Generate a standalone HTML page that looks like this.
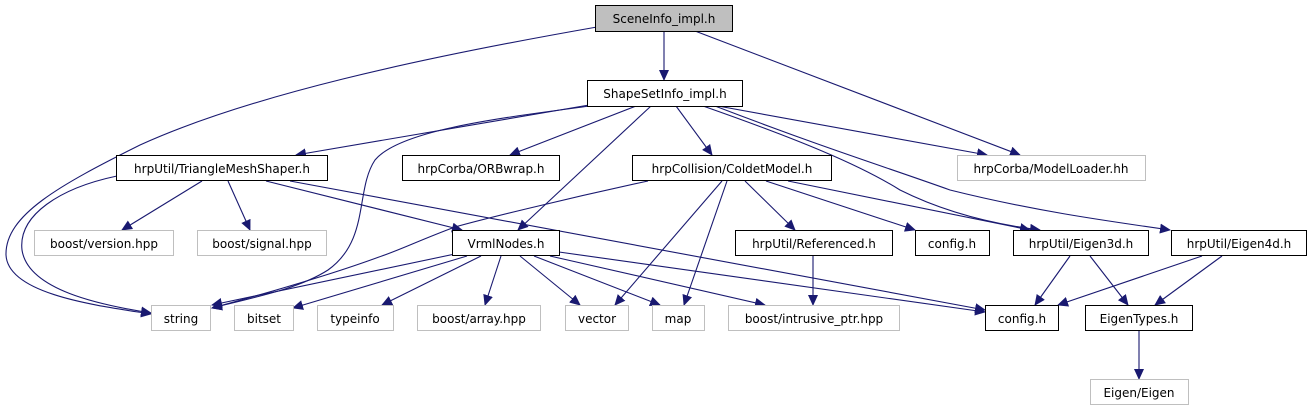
<!DOCTYPE html>
<html><head><meta charset="utf-8"><style>
html,body{margin:0;padding:0;background:#fff;width:1312px;height:411px;overflow:hidden}
text{font-family:"DejaVu Sans","Liberation Sans",sans-serif;font-size:12px;fill:#000}
</style></head><body>
<svg width="1312" height="411" xmlns="http://www.w3.org/2000/svg">
<defs><marker id="a" markerWidth="11" markerHeight="10" refX="10" refY="5" orient="auto" markerUnits="userSpaceOnUse"><path d="M0,0 L11,5 L0,10 z" fill="#191970"/></marker></defs>
<g fill="none" stroke="#191970" stroke-width="1.1" marker-end="url(#a)">
<path d="M664,31 L664,80"/>
<path d="M695,31 L1020,155"/>
<path d="M597,27 C420,58 250,95 140,145 C60,185 5,215 6,255 C8,295 100,306 151,314"/>
<path d="M595,104 L296,155"/>
<path d="M590,106 C500,118 400,130 375,160 C355,190 370,240 328,270 C300,288 260,296 212,308"/>
<path d="M636,106 L510,155"/>
<path d="M651,106 L518,230"/>
<path d="M676,106 L712,155"/>
<path d="M718,106 L987,155"/>
<path d="M703,106 C800,140 860,165 900,190 C950,215 1000,225 1040,230"/>
<path d="M715,106 C830,150 880,165 950,190 C1030,210 1100,220 1170,230"/>
<path d="M117,176 C60,188 18,215 22,250 C28,290 100,305 151,313"/>
<path d="M202,181 L122,230"/>
<path d="M228,181 L250,230"/>
<path d="M266,181 L462,230"/>
<path d="M290,181 L985,310"/>
<path d="M648,181 C560,200 480,220 455,227 C420,240 400,250 379,257 C330,275 260,295 212,308"/>
<path d="M722,181 L615,305"/>
<path d="M727,181 L684,305"/>
<path d="M745,181 L795,230"/>
<path d="M766,181 L915,230"/>
<path d="M788,181 L1030,230"/>
<path d="M813,255 L813,305"/>
<path d="M455,254 L212,305"/>
<path d="M467,256 L293,308"/>
<path d="M481,256 L382,305"/>
<path d="M501,256 L485,305"/>
<path d="M520,256 L580,305"/>
<path d="M534,256 L660,305"/>
<path d="M550,256 L765,305"/>
<path d="M559,252 L985,312"/>
<path d="M1070,256 L1035,305"/>
<path d="M1090,256 L1128,305"/>
<path d="M1202,256 L1058,305"/>
<path d="M1222,256 L1155,305"/>
<path d="M1139,330 L1139,379"/>
</g>
<g stroke-width="1" text-anchor="middle">
<rect x="595.5" y="5.5" width="137" height="26" fill="#bfbfbf" stroke="#000"/><text x="664" y="23">SceneInfo_impl.h</text>
<rect x="587.5" y="80.5" width="155" height="26" fill="#fff" stroke="#000"/><text x="665" y="98">ShapeSetInfo_impl.h</text>
<rect x="116.5" y="155.5" width="211" height="25" fill="#fff" stroke="#000"/><text x="222" y="173">hrpUtil/TriangleMeshShaper.h</text>
<rect x="402.5" y="155.5" width="157" height="25" fill="#fff" stroke="#000"/><text x="481" y="173">hrpCorba/ORBwrap.h</text>
<rect x="632.5" y="155.5" width="199" height="25" fill="#fff" stroke="#000"/><text x="732" y="173">hrpCollision/ColdetModel.h</text>
<rect x="957.5" y="155.5" width="188" height="25" fill="#fff" stroke="#bfbfbf"/><text x="1051" y="173">hrpCorba/ModelLoader.hh</text>
<rect x="34.5" y="230.5" width="139" height="25" fill="#fff" stroke="#bfbfbf"/><text x="104" y="248">boost/version.hpp</text>
<rect x="197.5" y="230.5" width="129" height="25" fill="#fff" stroke="#bfbfbf"/><text x="262" y="248">boost/signal.hpp</text>
<rect x="452.5" y="230.5" width="107" height="25" fill="#fff" stroke="#000"/><text x="506" y="248">VrmlNodes.h</text>
<rect x="735.5" y="230.5" width="157" height="25" fill="#fff" stroke="#000"/><text x="814" y="248">hrpUtil/Referenced.h</text>
<rect x="915.5" y="230.5" width="74" height="25" fill="#fff" stroke="#000"/><text x="952" y="248">config.h</text>
<rect x="1013.5" y="230.5" width="135" height="25" fill="#fff" stroke="#000"/><text x="1081" y="248">hrpUtil/Eigen3d.h</text>
<rect x="1171.5" y="230.5" width="135" height="25" fill="#fff" stroke="#000"/><text x="1239" y="248">hrpUtil/Eigen4d.h</text>
<rect x="151.5" y="305.5" width="59" height="25" fill="#fff" stroke="#bfbfbf"/><text x="181" y="323">string</text>
<rect x="234.5" y="305.5" width="59" height="25" fill="#fff" stroke="#bfbfbf"/><text x="264" y="323">bitset</text>
<rect x="317.5" y="305.5" width="76" height="25" fill="#fff" stroke="#bfbfbf"/><text x="355" y="323">typeinfo</text>
<rect x="417.5" y="305.5" width="123" height="25" fill="#fff" stroke="#bfbfbf"/><text x="479" y="323">boost/array.hpp</text>
<rect x="565.5" y="305.5" width="63" height="25" fill="#fff" stroke="#bfbfbf"/><text x="597" y="323">vector</text>
<rect x="652.5" y="305.5" width="52" height="25" fill="#fff" stroke="#bfbfbf"/><text x="678" y="323">map</text>
<rect x="728.5" y="305.5" width="171" height="25" fill="#fff" stroke="#bfbfbf"/><text x="814" y="323">boost/intrusive_ptr.hpp</text>
<rect x="985.5" y="305.5" width="73" height="25" fill="#fff" stroke="#000"/><text x="1022" y="323">config.h</text>
<rect x="1085.5" y="305.5" width="107" height="25" fill="#fff" stroke="#000"/><text x="1139" y="323">EigenTypes.h</text>
<rect x="1090.5" y="379.5" width="98" height="25" fill="#fff" stroke="#bfbfbf"/><text x="1139" y="397">Eigen/Eigen</text>
</g>
</svg>
</body></html>
